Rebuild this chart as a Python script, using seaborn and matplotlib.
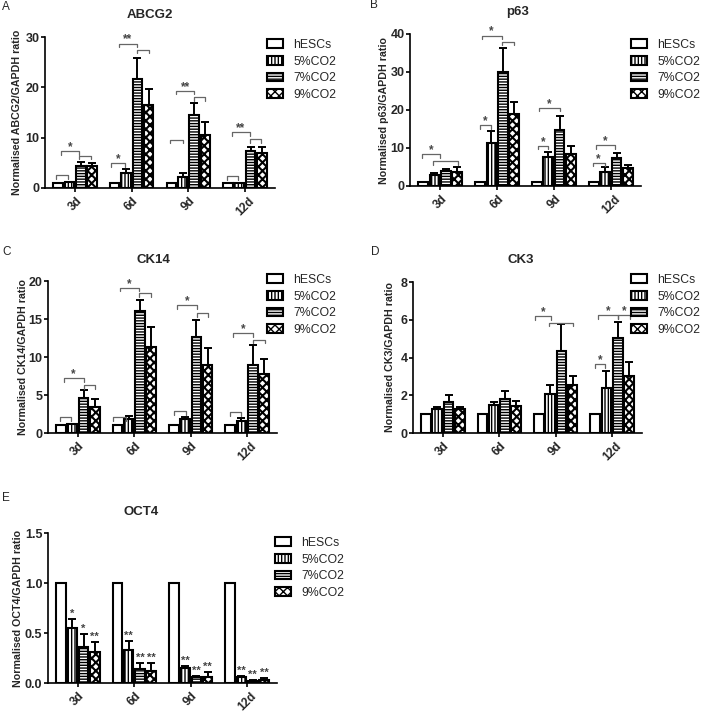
import numpy as np
import pandas as pd
import matplotlib
matplotlib.use('Agg')
import matplotlib.pyplot as plt
import seaborn as sns

days = ['3d', '6d', '9d', '12d']
groups = ['hESCs', '5%CO2', '7%CO2', '9%CO2']

# values per day, in the order hESCs, 5%CO2, 7%CO2, 9%CO2
abcg2_mean = [[1.0, 1.2, 4.3, 4.3], [1.0, 3.0, 21.7, 16.5], [1.0, 2.1, 14.6, 10.5], [1.0, 1.0, 7.4, 7.0]]
abcg2_sd = [[0, 0, 0.9, 0.7], [0, 0.7, 4.2, 3.1], [0, 0.9, 2.2, 2.7], [0, 0, 0.8, 1.1]]

p63_mean = [[1.0, 2.8, 3.9, 3.7], [1.0, 11.4, 30.1, 18.9], [1.0, 7.6, 14.7, 8.5], [1.0, 3.8, 7.4, 4.7]]
p63_sd = [[0, 0.7, 0.6, 1.2], [0, 3.1, 6.2, 3.3], [0, 1.4, 3.7, 2.1], [0, 1.1, 1.2, 0.8]]

ck14_mean = [[1.0, 1.2, 4.6, 3.4], [1.0, 1.8, 16.1, 11.3], [1.0, 1.8, 12.6, 8.9], [1.0, 1.6, 8.9, 7.8]]
ck14_sd = [[0, 0, 1.0, 1.1], [0, 0.4, 1.4, 2.7], [0, 0.3, 2.3, 2.3], [0, 0.4, 2.7, 1.9]]

ck3_mean = [[1.0, 1.25, 1.65, 1.25], [1.0, 1.47, 1.78, 1.45], [1.0, 2.08, 4.35, 2.56], [1.0, 2.4, 5.05, 3.0]]
ck3_sd = [[0, 0.12, 0.35, 0.15], [0, 0.18, 0.42, 0.27], [0, 0.45, 1.4, 0.46], [0, 0.88, 0.85, 0.75]]

oct4_mean = [[1.0, 0.55, 0.36, 0.31], [1.0, 0.33, 0.14, 0.12], [1.0, 0.15, 0.06, 0.065], [1.0, 0.065, 0.02, 0.035]]
oct4_sd = [[0, 0.09, 0.13, 0.10], [0, 0.09, 0.06, 0.08], [0, 0.025, 0.015, 0.05], [0, 0.01, 0.01, 0.02]]
oct4_stars = [['', '*', '*', '**'], ['', '**', '**', '**'], ['', '**', '**', '**'], ['', '**', '**', '**']]

# significance brackets: (day, from bar slot, to bar slot, height, label)
abcg2_brackets = [(0, -0.15, 0.9, 2.6, ''), (0, 0.25, 1.85, 7.3, '*'), (0, 1.85, 2.9, 6.4, ''),
                  (1, -0.35, 0.9, 4.9, '*'), (1, 0.35, 2.0, 28.7, '**'), (1, 2.0, 3.0, 27.5, ''),
                  (2, -0.1, 1.05, 9.6, ''), (2, 0.45, 2.0, 19.3, '**'), (2, 2.0, 3.0, 18.0, ''),
                  (3, -0.1, 0.9, 2.4, ''), (3, 0.35, 1.95, 11.1, '**'), (3, 1.95, 2.9, 9.7, '')]
p63_brackets = [(0, -0.1, 1.5, 8.3, '*'), (0, 0.85, 3.05, 6.6, ''),
                (1, 0.0, 1.0, 16.0, '*'), (1, 0.15, 1.9, 39.6, '*'), (1, 1.9, 2.95, 38.0, ''),
                (2, 0.1, 1.0, 10.6, '*'), (2, 0.2, 2.0, 20.6, '*'),
                (3, -0.1, 0.95, 6.1, '*'), (3, 0.2, 1.9, 10.7, '*')]
ck14_brackets = [(0, -0.1, 0.9, 2.1, ''), (0, 0.25, 2.0, 7.2, '*'), (0, 2.0, 3.05, 6.3, ''),
                 (1, -0.35, 0.75, 2.1, ''), (1, 0.2, 1.95, 19.1, '*'), (1, 1.95, 3.0, 18.4, ''),
                 (2, 0.0, 1.05, 2.9, ''), (2, 0.3, 2.05, 16.8, '*'), (2, 2.05, 3.0, 15.8, ''),
                 (3, 0.0, 0.95, 2.75, ''), (3, 0.25, 2.0, 13.1, '*'), (3, 2.0, 3.1, 12.3, '')]
ck3_brackets = [(2, -0.35, 1.1, 6.2, '*'), (2, 0.9, 3.0, 5.85, ''),
                (3, 0.0, 0.9, 3.65, '*'), (3, 0.25, 2.0, 6.25, '*'), (3, 2.0, 3.1, 6.25, '*')]

hatches = ['', '|||||', '------', 'xxxx']
hatch_lw = [1.0, 1.0, 1.0, 1.5]

sns.set_theme(style='ticks')
plt.rcParams['font.family'] = ['Liberation Sans', 'DejaVu Sans']
plt.rcParams['hatch.linewidth'] = 1.0

W, H = 711, 713
fig = plt.figure(figsize=(W / 100, H / 100), dpi=100)


def slot_x(conts, day, s):
    xs = [conts[k][day].get_x() + conts[k][day].get_width() / 2 for k in range(4)]
    return xs[0] + s * (xs[1] - xs[0])


def panel(rect, letter, letter_xy, title, title_xy, ylabel, means, sds, yticks, yfmt,
          brackets, leg_xy, stars=None, ylab_off=28):
    left, top, right, bottom = rect
    ax = fig.add_axes([left / W, 1 - bottom / H, (right - left) / W, (bottom - top) / H])
    df = pd.DataFrame({'day': np.repeat(days, 4), 'group': groups * 4,
                       'value': np.ravel(means)})
    sns.barplot(data=df, x='day', y='value', hue='group', order=days, hue_order=groups,
                errorbar=None, width=0.8, gap=0.15, legend=False, saturation=1, ax=ax)
    conts = list(ax.containers)
    for k, cont in enumerate(conts):
        for bar in cont:
            bar.set_facecolor('white')
            bar.set_edgecolor('black')
            bar.set_linewidth(1.5)
            bar.set_hatch(hatches[k])
            if hasattr(bar, 'set_hatch_linewidth'):
                bar.set_hatch_linewidth(hatch_lw[k])
        xs = np.array([b.get_x() + b.get_width() / 2 for b in cont])
        ys = np.array([b.get_height() for b in cont])
        err = np.array([sds[j][k] for j in range(4)])
        m = err > 0
        if m.any():
            ax.errorbar(xs[m], ys[m], yerr=[np.zeros(m.sum()), err[m]], fmt='none',
                        ecolor='black', elinewidth=1.4, capsize=3, capthick=1.4, zorder=3)
        if stars is not None:
            for j in range(4):
                if stars[j][k]:
                    ax.annotate(stars[j][k], xy=(xs[j], ys[j] + err[j]), xytext=(0, 0),
                                textcoords='offset points', ha='center', va='bottom',
                                fontsize=8, color='#444444', fontweight='bold')
    ymax = yticks[-1]
    drop = 0.024 * ymax
    for day, s1, s2, y, lab in brackets:
        x1, x2 = slot_x(conts, day, s1), slot_x(conts, day, s2)
        ax.plot([x1, x1, x2, x2], [y - drop, y, y, y - drop], color='#666666', lw=0.9,
                clip_on=False, zorder=4)
        if lab:
            ax.annotate(lab, xy=((x1 + x2) / 2, y), xytext=(0, -1.5), textcoords='offset points',
                        ha='center', va='bottom', fontsize=8.5, color='#444444', fontweight='bold')
    ax.set_xlim(-0.53, 3.53)
    ax.set_ylim(0, ymax)
    ax.set_yticks(yticks)
    ax.set_yticklabels([yfmt.format(v) for v in yticks], fontweight='bold', fontsize=9)
    ax.set_xticks(range(4))
    ax.set_xticklabels(days, rotation=45, fontweight='bold', fontsize=8.5)
    ax.set_xlabel('')
    ax.set_ylabel(ylabel, fontsize=7.7, fontweight='bold', va='center')
    ax.yaxis.set_label_coords(-ylab_off / (right - left), 0.5)
    ax.tick_params(axis='y', length=3, width=1.2, pad=1, color='black')
    ax.tick_params(axis='x', length=3, width=1.2, pad=2, color='black')
    sns.despine(ax=ax)
    for sp in ['left', 'bottom']:
        ax.spines[sp].set_linewidth(1.2)
        ax.spines[sp].set_color('black')
    ax.legend(handles=conts, labels=groups, loc='upper left',
              bbox_to_anchor=(leg_xy[0] / W, 1 - leg_xy[1] / H), bbox_transform=fig.transFigure,
              frameon=False, fontsize=8.8, handlelength=1.32, handleheight=0.74,
              handletextpad=0.85, labelspacing=0.38, borderpad=0, borderaxespad=0)
    fig.text(letter_xy[0] / W, 1 - letter_xy[1] / H, letter, fontsize=8.5, ha='left', va='center')
    fig.text(title_xy[0] / W, 1 - title_xy[1] / H, title, fontsize=9.5, fontweight='bold',
             ha='center', va='center')
    return ax


panel((45, 37, 275, 188), 'A', (2, 7), 'ABCG2', (150, 15), 'Normalised ABCG2/GAPDH ratio',
      abcg2_mean, abcg2_sd, [0, 10, 20, 30], '{:.0f}', abcg2_brackets, (267, 39), ylab_off=28)
panel((410, 34, 641, 186), 'B', (370, 5), 'p63', (518, 12), 'Normalised p63/GAPDH ratio',
      p63_mean, p63_sd, [0, 10, 20, 30, 40], '{:.0f}', p63_brackets, (631, 39), ylab_off=26)
panel((48, 281, 277, 433), 'C', (2, 252), 'CK14', (153, 260), 'Normalised CK14/GAPDH ratio',
      ck14_mean, ck14_sd, [0, 5, 10, 15, 20], '{:.0f}', ck14_brackets, (267, 274), ylab_off=25)
panel((413, 282, 642, 433), 'D', (371, 252), 'CK3', (521, 260), 'Normalised CK3/GAPDH ratio',
      ck3_mean, ck3_sd, [0, 2, 4, 6, 8], '{:.0f}', ck3_brackets, (631, 274), ylab_off=23)
panel((48, 533, 277, 683), 'E', (2, 498), 'OCT4', (141, 512), 'Normalised OCT4/GAPDH ratio',
      oct4_mean, oct4_sd, [0, 0.5, 1.0, 1.5], '{:.1f}', [], (275, 537), stars=oct4_stars,
      ylab_off=30)

fig.savefig('out.png', dpi=100)
